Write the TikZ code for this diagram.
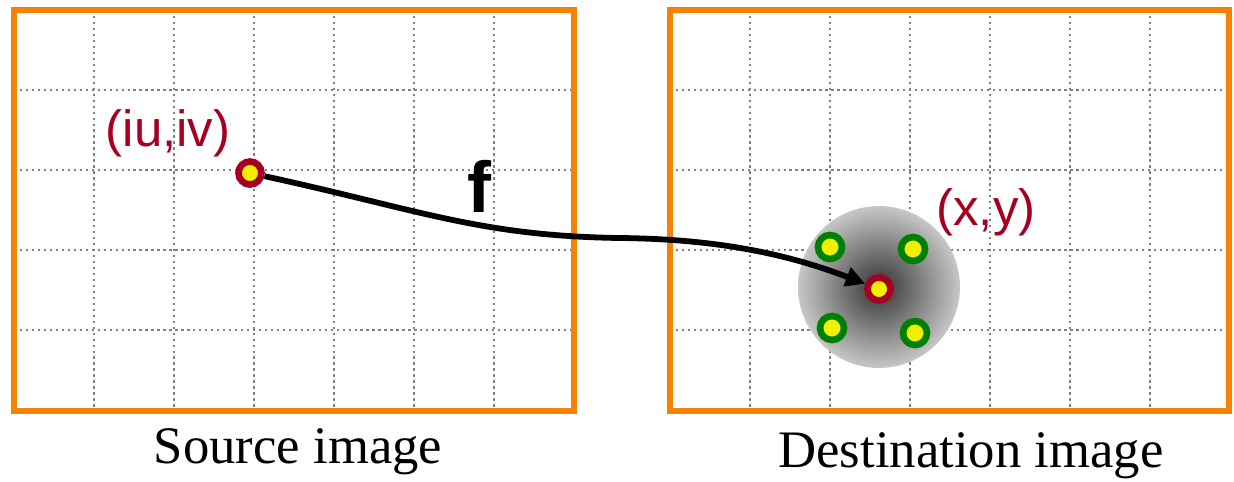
\documentclass[tikz,border=0pt]{standalone}
\usepackage{fontspec}
\setmainfont{Liberation Serif}
\newfontfamily\labelfont{Liberation Sans}
\usetikzlibrary{arrows.meta}
\definecolor{frameorange}{RGB}{248,130,0}
\definecolor{ptred}{RGB}{165,0,33}
\definecolor{ptgreen}{RGB}{0,128,0}
\definecolor{ptyellow}{RGB}{240,240,0}

\begin{document}
\begin{tikzpicture}[x=0.02cm, y=-0.02cm,
    frame/.style={draw=frameorange, line width=3.2pt},
    gridline/.style={draw=black!50, line width=1.3pt, dash pattern=on 1.3pt off 2.1pt},
    pt/.style={circle, draw=ptred, fill=ptyellow, line width=3.8pt, minimum size=0.46cm, inner sep=0pt},
    nbr/.style={pt, draw=ptgreen, minimum size=0.48cm},
    coord/.style={text=ptred, font=\labelfont\fontsize{29}{29}\selectfont, anchor=base},
    caption/.style={font=\fontsize{30}{30}\selectfont, anchor=base}]
    \useasboundingbox (0,0) rectangle (1234,481);
    % grids
    \foreach \x in {94,174,...,494} \draw[gridline] (\x,10) -- (\x,411);
    \foreach \x in {750,830,...,1150} \draw[gridline] (\x,10) -- (\x,411);
    \foreach \y in {90,170,250,330} {
        \draw[gridline] (14,\y) -- (574,\y);
        \draw[gridline] (670,\y) -- (1229,\y);
    }
    \draw[frame] (14,10) rectangle (574,411);
    \draw[frame] (670,10) rectangle (1229,411);
    % weighting disk
    \shade[inner color=black!80, outer color=black!22] (879,287) circle[radius=1.62cm];
    \node[pt] (src) at (250,173) {};
    \node[nbr] (nb1) at (830,247) {};
    \node[nbr] (nb2) at (913,249) {};
    \node[nbr] (nb3) at (832,328) {};
    \node[nbr] (nb4) at (915,333) {};
    \node[pt] (dst) at (879,289) {};
    \draw[line width=3.3pt, -{Triangle[length=11pt,width=11pt]}] (src)
        .. controls (420,210) and (480,236) .. (620,238)
        .. controls (720,239) and (790,255) .. (dst);
    \node[coord] (srclabel) at (168,146) {(iu,iv)};
    \node[coord] (dstlabel) at (986,225) {(x,y)};
    \node[font=\labelfont\bfseries\fontsize{41}{41}\selectfont, anchor=base] (map) at (479,212) {f};
    \node[caption] (srccap) at (298,463) {Source image};
    \node[caption] (dstcap) at (971,467) {Destination image};
\end{tikzpicture}
\end{document}
